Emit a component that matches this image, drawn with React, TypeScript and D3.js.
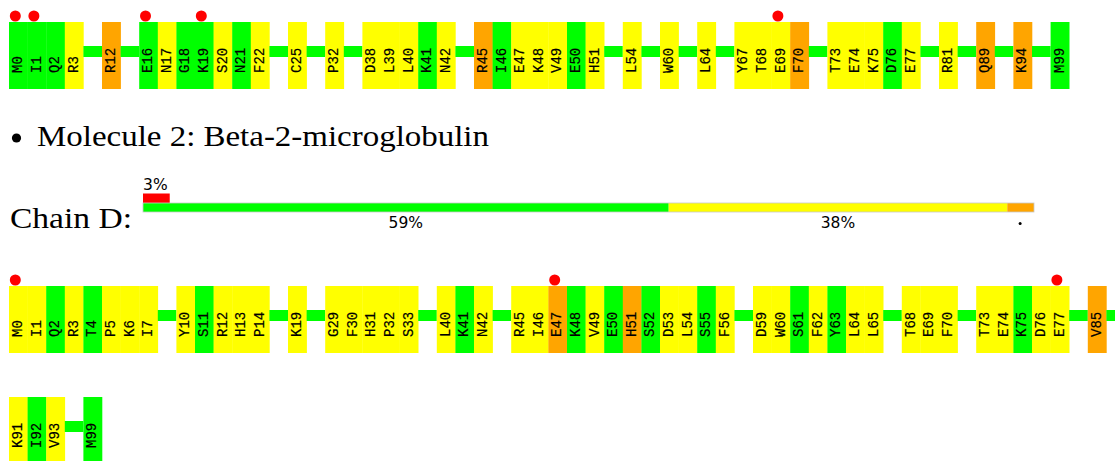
import React from 'react';
import * as d3 from 'd3';

// Molecule 1 row (chain shown above): residue labels, null = gap in sequence
const row1Labels = ['M0','I1','Q2','R3',null,'R12',null,'E16','N17','G18','K19','S20','N21','F22',null,'C25',null,'P32',null,'D38','L39','L40','K41','N42',null,'R45','I46','E47','K48','V49','E50','H51',null,'L54',null,'W60',null,'L64',null,'Y67','T68','E69','F70',null,'T73','E74','K75','D76','E77',null,'R81',null,'Q89',null,'K94',null,'M99'];
const row1Quality = ['g','g','g','y','','o','','g','y','g','g','y','g','y','','y','','y','','y','y','y','g','y','','o','g','y','y','y','g','y','','y','','y','','y','','y','y','y','o','','y','y','y','g','y','','y','','o','','o','','g'];
const row1Outliers = ['M0','I1','E16','K19','E69'];

// Molecule 2, chain D
const chainDLabelsA = ['M0','I1','Q2','R3','T4','P5','K6','I7',null,'Y10','S11','R12','H13','P14',null,'K19',null,'G29','F30','H31','P32','S33',null,'L40','K41','N42',null,'R45','I46','E47','K48','V49','E50','H51','S52','D53','L54','S55','F56',null,'D59','W60','S61','F62','Y63','L64','L65',null,'T68','E69','F70',null,'T73','E74','K75','D76','E77',null,'V85',null];
const chainDQualityA = ['y','y','g','y','g','y','y','y','','y','g','y','y','y','','y','','y','y','y','y','y','','y','g','y','','y','y','o','g','y','g','o','g','y','y','g','y','','y','y','g','y','g','y','y','','y','y','y','','y','y','g','y','y','','o',''];
const chainDOutliersA = ['M0','E47','E77'];

const chainDLabelsB = ['K91','I92','V93',null,'M99'];
const chainDQualityB = ['y','g','y','','g'];

// chain D summary bar (percent)
const summaryLabels = ['59%', '38%'];
const summaryValues = [59, 38, 3];
const summaryColors = ['#00ff00', '#ffff00', '#ffa500'];
const outlierPercent = 3;

const colorOf: Record<string, string> = { g: '#00ff00', y: '#ffff00', o: '#ffa500' };

const SLOT = 18.6;
const X0 = 9;
const BOX_H = 67;

function ResidueRow({ labels, quality, outliers, top }: { labels: (string | null)[]; quality: string[]; outliers: string[]; top: number }) {
  const x = d3.scaleBand<number>()
    .domain(d3.range(labels.length))
    .range([X0, X0 + labels.length * SLOT])
    .paddingInner(0)
    .paddingOuter(0);
  const w = x.bandwidth();
  return (
    <g>
      {labels.map((lab, i) =>
        lab === null ? (
          <rect key={'c' + i} x={x(i)} y={top + 24} width={w} height={11} fill="#00ff00" />
        ) : (
          <rect key={'b' + i} x={x(i)} y={top} width={w + 0.3} height={BOX_H} fill={colorOf[quality[i]]} />
        )
      )}
      {labels.map((lab, i) =>
        lab === null ? null : (
          <text
            key={'t' + i}
            transform={`translate(${(x(i) as number) + w / 2 - 1.3},${top + 51}) rotate(-90)`}
            textAnchor="start"
            dy="0.35em"
            fontFamily="'Liberation Mono', monospace"
            fontSize={14}
            stroke="#000"
            strokeWidth={0.2}
            fill="#000"
          >
            {lab}
          </text>
        )
      )}
      {labels.map((lab, i) =>
        lab !== null && outliers.includes(lab) ? (
          <circle key={'d' + i} cx={(x(i) as number) + w / 2 - 3} cy={top - 6} r={5.5} fill="#ff0000" />
        ) : null
      )}
    </g>
  );
}

function SummaryBar() {
  const x = d3.scaleLinear().domain([0, 100]).range([143, 1034]);
  const starts = d3.cumsum([0, ...summaryValues]);
  const barTop = 203;
  const barH = 9;
  return (
    <g>
      <rect x={x(0)} y={193.5} width={x(outlierPercent) - x(0)} height={9.5} fill="#ff0000" />
      <text x={x(0)} y={190} fontFamily="'DejaVu Sans', sans-serif" fontSize={15.5} fill="#000">{outlierPercent}%</text>
      {summaryValues.map((v, i) => (
        <rect key={i} x={x(starts[i])} y={barTop} width={x(starts[i] + v) - x(starts[i])} height={barH} fill={summaryColors[i]} />
      ))}
      <rect x={x(0)} y={barTop} width={x(100) - x(0)} height={barH} fill="none" stroke="#c8c8c8" strokeWidth={0.8} />
      {summaryLabels.map((lab, i) => (
        <text key={lab} x={x(starts[i] + summaryValues[i] / 2)} y={228} textAnchor="middle" fontFamily="'DejaVu Sans', sans-serif" fontSize={15.5} fill="#000">{lab}</text>
      ))}
      <circle cx={x(starts[2] + summaryValues[2] / 2) - 0.5} cy={223.5} r={1.5} fill="#000" />
    </g>
  );
}

export default function App() {
  return (
    <div style={{ position: 'absolute', left: 0, top: 0 }}>
      <svg width={1115} height={461} style={{ display: 'block', background: '#fff' }}>
        <ResidueRow labels={row1Labels} quality={row1Quality} outliers={row1Outliers} top={22} />
        <circle cx={16.5} cy={138} r={4.6} fill="#000" />
        <text x={37} y={146} fontFamily="'Liberation Serif', serif" fontSize={30} textLength={452} lengthAdjust="spacingAndGlyphs" fill="#000">Molecule 2: Beta-2-microglobulin</text>
        <text x={10} y={228} fontFamily="'Liberation Serif', serif" fontSize={30} textLength={122} lengthAdjust="spacingAndGlyphs" fill="#000">Chain D:</text>
        <SummaryBar />
        <ResidueRow labels={chainDLabelsA} quality={chainDQualityA} outliers={chainDOutliersA} top={286} />
        <ResidueRow labels={chainDLabelsB} quality={chainDQualityB} outliers={[]} top={397} />
      </svg>
    </div>
  );
}
